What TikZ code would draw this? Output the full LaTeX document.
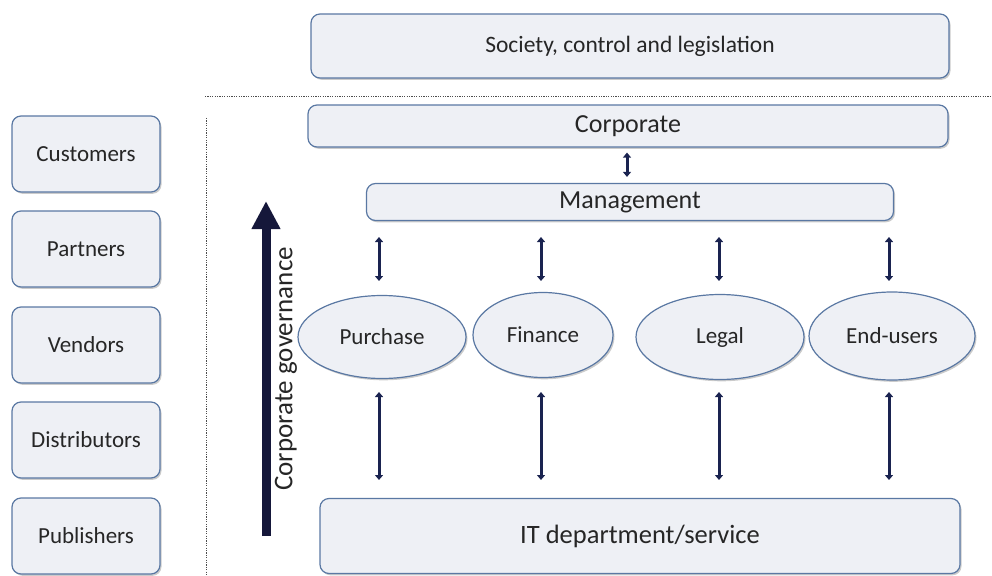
\documentclass[tikz,border=0pt]{standalone}
\usepackage{fontspec}
\setmainfont{Carlito}
\usetikzlibrary{arrows.meta,shapes.geometric,shadows}
\definecolor{boxfill}{HTML}{EEF0F5}
\definecolor{boxline}{HTML}{5A78A3}
\definecolor{navy}{HTML}{1A2350}
\definecolor{govnavy}{HTML}{15173A}
\definecolor{txt}{HTML}{262626}
\tikzset{
  base/.style={draw=boxline, line width=1.2pt, fill=boxfill, text=txt,
    drop shadow={shadow xshift=1.5pt, shadow yshift=-1.8pt, fill=black!45, opacity=0.45}},
  rbox/.style={base, rounded corners=9pt, inner sep=0pt},
  ell/.style={base, ellipse, inner sep=0pt},
  dbl/.style={draw=navy, line width=3pt, {Triangle[width=8pt,length=5pt]}-{Triangle[width=8pt,length=5pt]}},
  dotline/.style={draw=black!70, line width=0.6pt, dash pattern=on 1.2pt off 1.2pt},
}
\begin{document}
\begin{tikzpicture}[x=1pt,y=-1pt]
\useasboundingbox (0,0) rectangle (992,575);
% top box
\node[rbox, minimum width=638pt, minimum height=64pt, font=\fontsize{23.5}{27}\selectfont] (soc) at (630,46) {Society, control and legislation};
% dotted separators
\coordinate (h1) at (205,96);
\coordinate (h2) at (992,96);
\draw[dotline] (h1) -- (h2);
\coordinate (v1) at (206,118);
\coordinate (v2) at (206,575);
\draw[dotline] (v1) -- (v2);
% left boxes
\foreach \n/\t/\y in {cust/Customers/154, part/Partners/249, vend/Vendors/345, dist/Distributors/440, pub/Publishers/536}{
  \node[rbox, minimum width=148pt, minimum height=76pt, font=\fontsize{23}{26}\selectfont] (\n) at (86,\y) {\t};
}
% corporate and management
\node[rbox, minimum width=640pt, minimum height=42pt, font=\fontsize{26}{30}\selectfont] (corp) at (628,126) {Corporate};
\node[rbox, minimum width=527pt, minimum height=37pt, font=\fontsize{26}{30}\selectfont] (mgmt) at (630,202) {Management};
% ellipses
\node[ell, minimum width=168pt, minimum height=83pt, font=\fontsize{23}{26}\selectfont] (pur) at (382,337) {Purchase};
\node[ell, minimum width=140pt, minimum height=85pt, font=\fontsize{23}{26}\selectfont] (fin) at (543,335) {Finance};
\node[ell, minimum width=168pt, minimum height=85pt, font=\fontsize{23}{26}\selectfont] (leg) at (720,337) {Legal};
\node[ell, minimum width=166pt, minimum height=88pt, font=\fontsize{23}{26}\selectfont] (end) at (892,336) {End-users};
% IT box
\node[rbox, minimum width=640pt, minimum height=75pt, font=\fontsize{26.5}{30}\selectfont] (it) at (640,536) {IT department/service};
% arrows corp-mgmt
\draw[dbl] ([xshift=-1pt,yshift=-5pt]corp.south) -- ([xshift=-3pt,yshift=6pt]mgmt.north);
% arrows mgmt - ellipses
\foreach \e/\x in {pur/379, fin/541, leg/719, end/889}{
  \coordinate (mt\e) at (\x,237);
  \coordinate (mb\e) at (\x,281);
  \draw[dbl] (mt\e) -- (mb\e);
  \coordinate (lt\e) at (\x,392);
  \coordinate (lb\e) at (\x,480);
  \draw[dbl] (lt\e) -- (lb\e);
}
% governance arrow
\coordinate (g1) at (266,536);
\coordinate (g2) at (266,201);
\draw[govnavy, line width=9pt, -{Triangle[width=27pt,length=28pt]}] (g1) -- (g2);
\node[rotate=90, text=txt, font=\fontsize{27}{30}\selectfont, anchor=center] (gov) at (286,369) {Corporate governance};
\end{tikzpicture}
\end{document}
